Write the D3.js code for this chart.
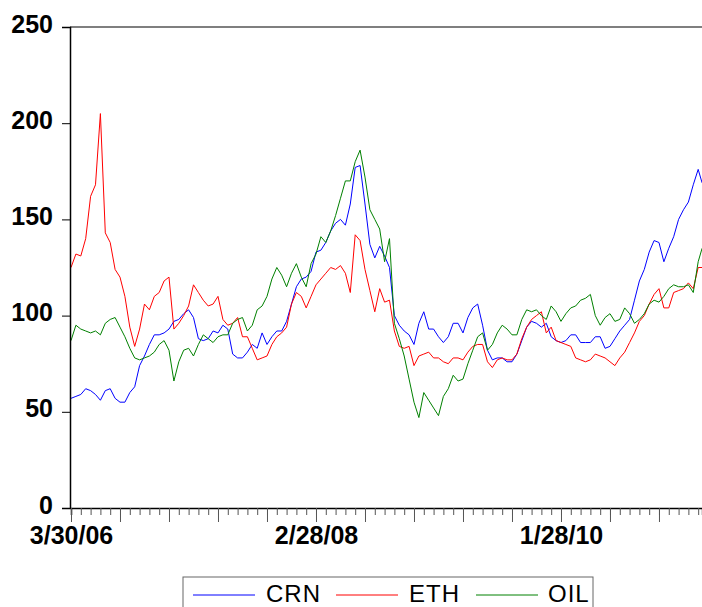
<!DOCTYPE html>
<html>
<head>
<meta charset="utf-8">
<script src="https://cdn.jsdelivr.net/npm/d3@7"></script>
<style>
  html, body { margin: 0; padding: 0; background: #fff; }
  svg { display: block; }
</style>
</head>
<body>
<svg id="chart" width="702" height="607"></svg>
<script>
// Observation index (weekdays since 3/30/06), sampled every 10 observations
const obs = d3.range(0, 1281, 10).concat([1288]);

const crn = [57,58,59,62,61,59,56,61,62,57,55,55,60,63,74,79,85,90,90,91,
  93,97,98,101,103,99,88,87,88,92,91,95,93,80,78,78,81,85,83,91,
  85,89,92,92,97,106,115,119,120,123,133,134,138,144,148,150,147,158,177,178,
  158,137,130,136,131,125,100,95,92,90,85,96,102,93,93,89,86,89,96,96,
  91,99,104,106,95,82,77,78,78,76,76,80,87,94,97,96,94,96,89,87,
  86,87,90,90,86,86,86,89,89,83,84,88,92,95,98,108,118,124,133,139,
  138,128,135,141,150,155,159,168,176,169];

const eth = [125,132,131,140,162,168,205,143,138,124,120,110,94,84,93,106,103,110,112,118,
  120,93,96,100,105,116,112,108,105,106,110,98,95,96,99,89,89,83,77,78,
  79,85,89,91,94,106,112,110,104,110,116,119,122,125,124,126,122,112,142,139,
  124,113,102,114,107,108,92,84,83,84,74,79,80,81,78,78,76,75,78,78,
  77,81,84,85,85,76,73,77,78,77,77,80,88,94,98,100,102,91,94,87,
  86,85,84,78,77,76,77,80,79,78,76,74,78,81,86,91,97,100,106,111,
  114,104,104,112,113,114,117,114,125,125];

const oil = [87,95,93,92,91,92,90,96,98,99,94,89,83,78,77,78,79,81,85,87,
  82,66,76,82,83,79,85,90,88,86,89,90,90,96,98,99,92,95,103,105,
  110,119,125,121,115,122,127,120,115,127,132,141,138,144,152,161,170,170,180,186,
  172,155,150,145,128,140,96,88,79,67,55,47,60,56,52,48,58,62,69,66,
  67,75,82,89,91,82,85,91,95,93,90,90,98,103,102,103,100,98,105,102,
  97,101,104,105,108,109,111,100,95,99,101,97,98,104,101,96,98,101,106,108,
  107,110,114,116,115,115,116,112,128,135];

const seriesNames = ["CRN", "ETH", "OIL"];
const seriesColors = ["#0000ff", "#ff0000", "#008000"];
const seriesValues = [crn, eth, oil];

const yTicks = [0, 50, 100, 150, 200, 250];
const xLabelObs = [0, 500, 1000];
const xLabels = ["3/30/06", "2/28/08", "1/28/10"];

const svg = d3.select("#chart");
const font = "'Liberation Sans', Arial, sans-serif";

const x = d3.scaleLinear().domain([0, 1288]).range([71, 702.1]);
const y = d3.scaleLinear().domain([0, 250]).range([508, 27]);

// frame: top border
svg.append("line")
  .attr("x1", 70).attr("x2", 702)
  .attr("y1", y(250)).attr("y2", y(250))
  .attr("stroke", "#000").attr("stroke-width", 1.2);

// series lines
const line = d3.line()
  .x((d, i) => x(obs[i]))
  .y(d => y(d));

seriesValues.forEach((vals, k) => {
  svg.append("path")
    .datum(vals)
    .attr("fill", "none")
    .attr("stroke", seriesColors[k])
    .attr("stroke-width", 1)
    .attr("stroke-linejoin", "miter")
    .attr("d", line);
});

// y axis
const yAxis = svg.append("g")
  .attr("transform", "translate(70,0)")
  .call(d3.axisLeft(y).tickValues(yTicks).tickSize(8).tickPadding(9).tickFormat(d3.format("d")));
yAxis.select(".domain").attr("stroke", "#000").attr("stroke-width", 1.5);
yAxis.selectAll(".tick line").attr("stroke", "#000");
yAxis.selectAll(".tick text")
  .attr("font-family", font).attr("font-size", 25).attr("font-weight", "bold")
  .attr("fill", "#000").attr("dy", "0.0em").attr("y", 5);

// x axis: minor ticks every 20 observations, major every 100
const xMinor = svg.append("g")
  .attr("transform", `translate(0,${y(0)})`)
  .call(d3.axisBottom(x).tickValues(d3.range(0, 1281, 20)).tickSize(7).tickFormat(""));
xMinor.selectAll(".tick line").attr("stroke", "#555");
xMinor.select(".domain").attr("stroke", "#000").attr("stroke-width", 1.5);

const xMajor = svg.append("g")
  .attr("transform", `translate(0,${y(0)})`)
  .call(d3.axisBottom(x).tickValues(d3.range(0, 1281, 100)).tickSize(14)
    .tickFormat(d => { const j = xLabelObs.indexOf(d); return j >= 0 ? xLabels[j] : ""; }));
xMajor.select(".domain").remove();
xMajor.selectAll(".tick line").attr("stroke", "#555");
xMajor.selectAll(".tick text")
  .attr("font-family", font).attr("font-size", 25).attr("font-weight", "bold")
  .attr("fill", "#000").attr("y", 18).attr("dy", "0.71em");

// legend
const lg = svg.append("g");
lg.append("rect")
  .attr("x", 183).attr("y", 577).attr("width", 410).attr("height", 40)
  .attr("fill", "#fff").attr("stroke", "#666").attr("stroke-width", 1);
const legendItems = [
  { lx: 193, tx: 266 },
  { lx: 336, tx: 409 },
  { lx: 476, tx: 548 }
];
seriesNames.forEach((name, k) => {
  lg.append("line")
    .attr("x1", legendItems[k].lx).attr("x2", legendItems[k].lx + 62)
    .attr("y1", 595).attr("y2", 595)
    .attr("stroke", seriesColors[k]).attr("stroke-width", 1);
  lg.append("text")
    .attr("x", legendItems[k].tx).attr("y", 602)
    .attr("font-family", font).attr("font-size", 24)
    .attr("fill", "#000").attr("letter-spacing", 1)
    .text(name);
});
</script>
</body>
</html>
